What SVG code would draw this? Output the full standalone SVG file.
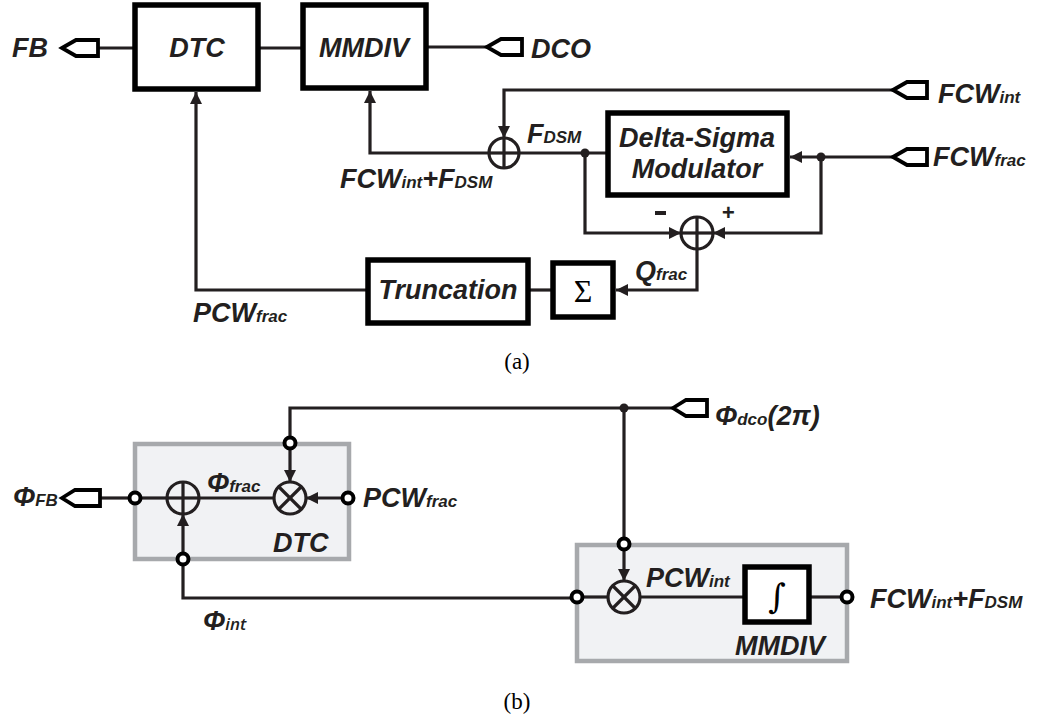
<svg xmlns="http://www.w3.org/2000/svg" width="1037" height="717" viewBox="0 0 1037 717">
<defs>
<style>
.t{font-family:"Liberation Sans",Arial,sans-serif;font-weight:bold;font-style:italic;font-size:27px;fill:#231f20}
.s{font-size:17px}
.w{fill:none;stroke:#231f20;stroke-width:3.2}
.box{fill:#fff;stroke:#000;stroke-width:5.5}
.gbox{fill:#f1f2f4;stroke:#a7a9ac;stroke-width:4.5}
.oc{fill:#fff;stroke:#000;stroke-width:4}
.cap{font-family:"Liberation Serif","Times New Roman",serif;font-size:23px;fill:#000}
.port{fill:#fff;stroke:#000;stroke-width:3.8;stroke-linejoin:miter}
</style>
<marker id="arr" viewBox="0 0 12 12" refX="12" refY="6" markerWidth="12" markerHeight="12" orient="auto" markerUnits="userSpaceOnUse">
<path d="M0,0 L12,6 L0,12 z" fill="#231f20"/>
</marker>
</defs>

<!-- ========== (a) ========== -->
<g id="connectors-a">
<line class="w" x1="98" y1="48" x2="135" y2="48"/>
<line class="w" x1="258" y1="48" x2="303" y2="48"/>
<line class="w" x1="426" y1="47" x2="487" y2="47"/>
<polyline class="w" points="368,290 196,290 196,92" marker-end="url(#arr)"/>
<polyline class="w" points="489,153 370,153 370,91" marker-end="url(#arr)"/>
<polyline class="w" points="893,90 504,90 504,138" marker-end="url(#arr)"/>
<line class="w" x1="519" y1="153" x2="608" y2="153"/>
<line class="w" x1="893" y1="157" x2="790" y2="157" marker-end="url(#arr)"/>
<polyline class="w" points="821,157 821,233 713,233" marker-end="url(#arr)"/>
<polyline class="w" points="585,153 585,233 681,233" marker-end="url(#arr)"/>
<polyline class="w" points="697,249 697,290 616,290" marker-end="url(#arr)"/>
<line class="w" x1="528" y1="290" x2="553" y2="290"/>
<circle cx="585" cy="153" r="4.5" fill="#231f20"/>
<circle cx="821" cy="157" r="4.5" fill="#231f20"/>
</g>

<g id="port-FB"><path class="port" d="M62,48 L76,40 L98,40 L98,56 L76,56 Z"/><text class="t" x="12" y="57">FB</text></g>
<g id="port-DCO"><path class="port" d="M487,47 L501,39 L522,39 L522,55 L501,55 Z"/><text class="t" x="531" y="58">DCO</text></g>
<g id="port-FCWint"><path class="port" d="M893,90 L907,82 L927,82 L927,98 L907,98 Z"/><text class="t" x="938" y="103">FCW<tspan class="s">int</tspan></text></g>
<g id="port-FCWfrac"><path class="port" d="M893,157 L907,149 L927,149 L927,165 L907,165 Z"/><text class="t" x="933" y="166">FCW<tspan class="s">frac</tspan></text></g>

<g id="dtc-a"><rect class="box" x="135" y="5" width="123" height="84"/><text class="t" x="197" y="57" text-anchor="middle">DTC</text></g>
<g id="mmdiv-a"><rect class="box" x="303" y="5" width="123" height="83"/><text class="t" x="364" y="57" text-anchor="middle">MMDIV</text></g>
<g id="dsm"><rect class="box" x="608" y="113" width="179" height="82"/><text class="t" x="697" y="147" text-anchor="middle">Delta-Sigma</text><text class="t" x="697" y="178" text-anchor="middle">Modulator</text></g>
<g id="trunc"><rect class="box" x="368" y="260" width="160" height="63"/><text class="t" x="448" y="299" text-anchor="middle">Truncation</text></g>
<g id="sigma"><rect class="box" x="553" y="263" width="60" height="54"/><text x="583" y="302" text-anchor="middle" style="font-family:'Liberation Serif','Times New Roman',serif;font-size:32px;fill:#000">Σ</text></g>
<g id="sum1"><circle class="w" cx="504" cy="153" r="15"/><line class="w" x1="489" y1="153" x2="519" y2="153"/><line class="w" x1="504" y1="138" x2="504" y2="168"/></g>
<g id="sum2"><circle class="w" cx="697" cy="233" r="16"/><line class="w" x1="681" y1="233" x2="713" y2="233"/><line class="w" x1="697" y1="217" x2="697" y2="249"/></g>

<g id="labels-a">
<text class="t" x="527" y="143">F<tspan class="s">DSM</tspan></text>
<text class="t" x="340" y="188">FCW<tspan class="s">int</tspan>+F<tspan class="s">DSM</tspan></text>
<rect x="655" y="211" width="11" height="4" fill="#231f20"/>
<text class="t" x="728" y="220" text-anchor="middle" style="font-size:22px">+</text>
<text class="t" x="635" y="280">Q<tspan class="s">frac</tspan></text>
<text class="t" x="193" y="322">PCW<tspan class="s">frac</tspan></text>
<text class="cap" x="517" y="369" text-anchor="middle">(a)</text>
</g>

<!-- ========== (b) ========== -->
<g id="dtc-b"><rect class="gbox" x="135" y="444" width="214" height="115"/><text class="t" x="273" y="552">DTC</text></g>
<g id="mmdiv-b"><rect class="gbox" x="577" y="545" width="270" height="116"/><text class="t" x="735" y="655">MMDIV</text></g>

<g id="connectors-b">
<polyline class="w" points="673,408 290,408 290,438"/>
<line class="w" x1="290" y1="448" x2="290" y2="482" marker-end="url(#arr)"/>
<line class="w" x1="624" y1="408" x2="624" y2="539"/>
<line class="w" x1="624" y1="549" x2="624" y2="581" marker-end="url(#arr)"/>
<circle cx="624" cy="408" r="4.5" fill="#231f20"/>
<line class="w" x1="100" y1="498" x2="130" y2="498"/>
<line class="w" x1="140" y1="498" x2="167" y2="498"/>
<line class="w" x1="199" y1="498" x2="274" y2="498"/>
<line class="w" x1="343" y1="498" x2="306" y2="498" marker-end="url(#arr)"/>
<line class="w" x1="183" y1="553" x2="183" y2="514" marker-end="url(#arr)"/>
<polyline class="w" points="183,565 183,598 571,598"/>
<line class="w" x1="583" y1="597" x2="608" y2="597"/>
<line class="w" x1="640" y1="597" x2="745" y2="597"/>
<line class="w" x1="809" y1="597" x2="841" y2="597"/>
</g>

<g id="port-PhiFB"><path class="port" d="M62,498 L75,490 L100,490 L100,506 L75,506 Z"/><text class="t" x="13" y="506">Φ<tspan class="s">FB</tspan></text></g>
<g id="port-Phidco"><path class="port" d="M673,408 L686,400 L707,400 L707,416 L686,416 Z"/><text class="t" x="715" y="425">Φ<tspan class="s">dco</tspan>(2π)</text></g>

<g id="add-b"><circle class="w" cx="183" cy="498" r="16"/><line class="w" x1="167" y1="498" x2="199" y2="498"/><line class="w" x1="183" y1="482" x2="183" y2="514"/></g>
<g id="mul-dtc"><circle class="w" cx="290" cy="498" r="16"/><line class="w" x1="279" y1="487" x2="301" y2="509"/><line class="w" x1="301" y1="487" x2="279" y2="509"/></g>
<g id="mul-mmdiv"><circle class="w" cx="624" cy="597" r="16"/><line class="w" x1="613" y1="586" x2="635" y2="608"/><line class="w" x1="635" y1="586" x2="613" y2="608"/></g>
<g id="integ"><rect class="box" x="745" y="567" width="64" height="55"/><text x="777" y="608" text-anchor="middle" style="font-family:'DejaVu Serif',serif;font-size:34px;fill:#000">∫</text></g>

<g id="ocircles">
<circle class="oc" cx="135" cy="498" r="5.5"/>
<circle class="oc" cx="348" cy="498" r="5.5"/>
<circle class="oc" cx="290" cy="443" r="5.5"/>
<circle class="oc" cx="183" cy="559" r="5.5"/>
<circle class="oc" cx="577" cy="597" r="5.5"/>
<circle class="oc" cx="624" cy="544" r="5.5"/>
<circle class="oc" cx="847" cy="597" r="5.5"/>
</g>

<g id="labels-b">
<text class="t" x="207" y="492">Φ<tspan class="s">frac</tspan></text>
<text class="t" x="363" y="507">PCW<tspan class="s">frac</tspan></text>
<text class="t" x="203" y="630">Φ<tspan style="font-family:'Open Sans','Noto Sans',sans-serif;font-weight:600;font-size:17px">int</tspan></text>
<text class="t" x="646" y="587">PCW<tspan class="s">int</tspan></text>
<text class="t" x="870" y="608">FCW<tspan class="s">int</tspan>+F<tspan class="s">DSM</tspan></text>
<text class="cap" x="517" y="709" text-anchor="middle">(b)</text>
</g>
</svg>
